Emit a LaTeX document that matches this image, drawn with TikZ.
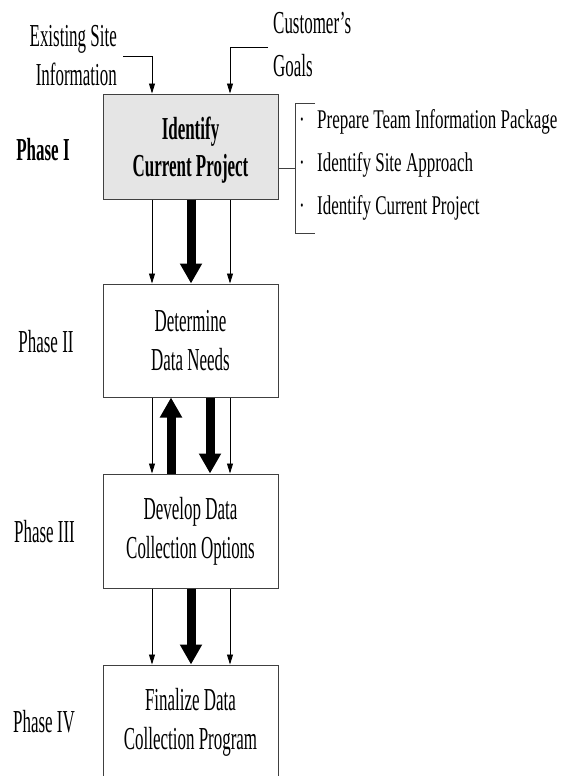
\documentclass[tikz,border=0pt]{standalone}
\usepackage{fontspec}
\setmainfont{Liberation Serif}[FakeStretch=0.53]
\newfontfamily\brfont{Liberation Serif}[FakeStretch=0.63]
\usetikzlibrary{arrows.meta}
\begin{document}
\begin{tikzpicture}[x=1pt,y=-1pt,
  every node/.style={inner sep=0pt, font=\fontsize{32}{39}\selectfont},
  phasebox/.style={draw=black!75, line width=1pt, minimum width=175pt, align=center},
  phaselabel/.style={anchor=center},
  thinarrow/.style={draw=black, line width=0.8pt, -{Triangle[width=6pt,length=10pt]}},
  thickarrow/.style={draw=black, line width=9pt, -{Triangle[width=21pt,length=20pt]}},
  bracketline/.style={draw=black!75, line width=1pt},
  ]
\useasboundingbox (0,0) rectangle (569,776);

% boxes
\node[phasebox, fill=black!10, minimum height=105pt,
  label={[name=t1, inner sep=0pt, align=center, yshift=-4pt, font=\fontsize{32}{37}\selectfont\bfseries]center:{Identify\\Current Project}}] (b1) at (190.5,146.5) {};
\node[phasebox, minimum height=113pt] (b2) at (190.5,340.5) {Determine\\Data Needs};
\node[phasebox, minimum height=114pt] (b3) at (190.5,531) {Develop Data\\Collection Options};
\node[phasebox, minimum height=114pt] (b4) at (190.5,722) {Finalize Data\\Collection Program};

% phase labels
\node[phaselabel, font=\fontsize{32}{39}\selectfont\bfseries] (p1) at (43,150) {Phase I};
\node[phaselabel] (p2) at (46,342) {Phase II};
\node[phaselabel] (p3) at (44.5,532) {Phase III};
\node[phaselabel] (p4) at (44,722) {Phase IV};

% inputs
\node[align=right, anchor=north east] (ex) at (117,25) {Existing Site\\Information};
\node[align=left, anchor=north west, font=\fontsize{32}{43}\selectfont] (cg) at (273,12) {Customer's\\Goals};
\coordinate (exs) at (123,56);
\coordinate (cgs) at (268,47);
\draw[thinarrow] (exs) -| ([xshift=-38.5pt]b1.north);
\draw[thinarrow] (cgs) -| ([xshift=39.5pt]b1.north);

% bracket list
\node[align=left, anchor=north west, font=\brfont\fontsize{27}{43}\selectfont] (br) at (299,109)
  {\makebox[18pt][l]{·}Prepare Team Information Package\\
   \makebox[18pt][l]{·}Identify Site Approach\\
   \makebox[18pt][l]{·}Identify Current Project};
\coordinate (bt) at (315,103);
\coordinate (bb) at (315,233);
\coordinate (bm) at (295,168);
\draw[bracketline] (bt) -- (bt -| bm) -- (bb -| bm) -- (bb);
\draw[bracketline] (b1.east |- bm) -- (bm);

% connectors 1-2
\draw[thinarrow] ([xshift=-38.5pt]b1.south) -- ([xshift=-38.5pt]b2.north);
\draw[thinarrow] ([xshift=39.5pt]b1.south) -- ([xshift=39.5pt]b2.north);
\draw[thickarrow] ([xshift=0.5pt]b1.south) -- ([xshift=0.5pt]b2.north);
% connectors 2-3
\draw[thinarrow] ([xshift=-38.5pt]b2.south) -- ([xshift=-38.5pt]b3.north);
\draw[thinarrow] ([xshift=39.5pt]b2.south) -- ([xshift=39.5pt]b3.north);
\draw[thickarrow] ([xshift=-19.5pt]b3.north) -- ([xshift=-19.5pt]b2.south);
\draw[thickarrow] ([xshift=19.5pt]b2.south) -- ([xshift=19.5pt]b3.north);
% connectors 3-4
\draw[thinarrow] ([xshift=-38.5pt]b3.south) -- ([xshift=-38.5pt]b4.north);
\draw[thinarrow] ([xshift=39.5pt]b3.south) -- ([xshift=39.5pt]b4.north);
\draw[thickarrow] ([xshift=0.5pt]b3.south) -- ([xshift=0.5pt]b4.north);
\end{tikzpicture}
\end{document}
